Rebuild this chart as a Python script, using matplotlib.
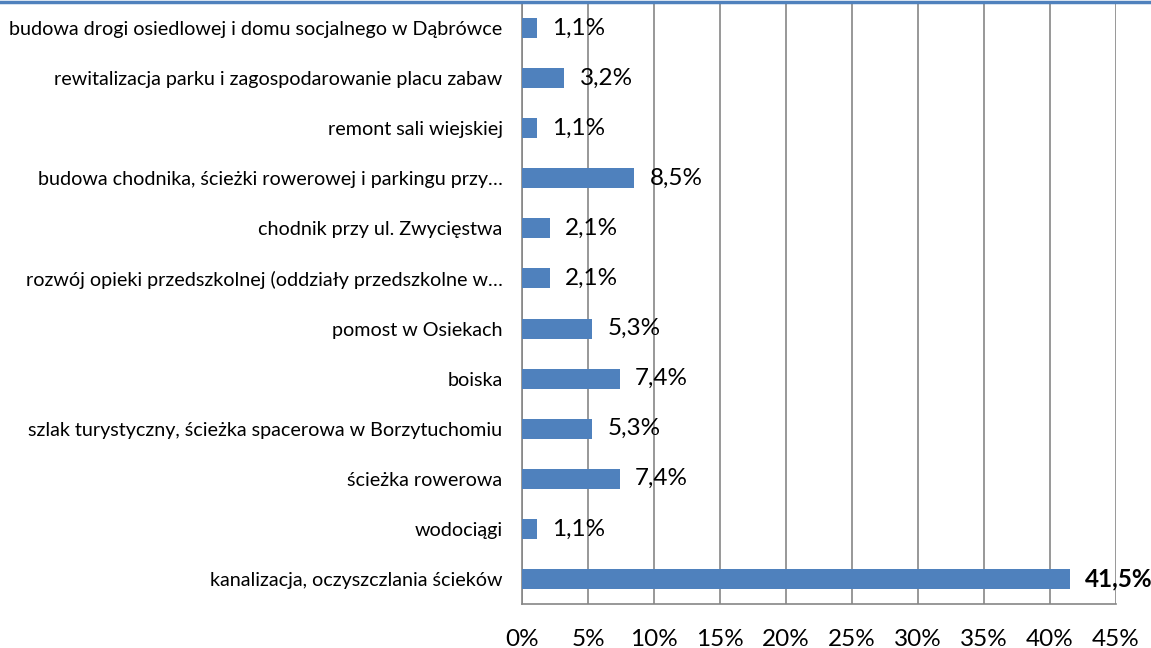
import matplotlib
matplotlib.use("Agg")
import matplotlib.pyplot as plt
from matplotlib.lines import Line2D
from matplotlib.ticker import FuncFormatter

plt.rcParams['font.family'] = ['Lato', 'DejaVu Sans']

categories = [
    "budowa drogi osiedlowej i domu socjalnego w Dąbrówce",
    "rewitalizacja parku i zagospodarowanie placu zabaw",
    "remont sali wiejskiej",
    "budowa chodnika, ścieżki rowerowej i parkingu przy…",
    "chodnik przy ul. Zwycięstwa",
    "rozwój opieki przedszkolnej (oddziały przedszkolne w…",
    "pomost w Osiekach",
    "boiska",
    "szlak turystyczny, ścieżka spacerowa w Borzytuchomiu",
    "ścieżka rowerowa",
    "wodociągi",
    "kanalizacja, oczyszczlania ścieków",
]
values = [1.1, 3.2, 1.1, 8.5, 2.1, 2.1, 5.3, 7.4, 5.3, 7.4, 1.1, 41.5]
bold_labels = [False] * 11 + [True]
x_ticks = [0, 5, 10, 15, 20, 25, 30, 35, 40, 45]

W, H = 1151, 648
fig = plt.figure(figsize=(W / 100, H / 100), dpi=100)
left, right, bottom, top = 522, 1116, 604, 3
ax = fig.add_axes([left / W, (H - bottom) / H, (right - left) / W, (bottom - top) / H])

ypos = list(range(len(categories)))
ax.barh(ypos, values, height=0.4, color='#4F81BD', zorder=3)
ax.set_ylim(len(categories) - 0.5, -0.5)
ax.set_xlim(0, 45)
ax.set_yticks(ypos)
ax.set_yticklabels(categories, fontsize=14.2, color='#000000')
ax.set_xticks(x_ticks)
ax.xaxis.set_major_formatter(FuncFormatter(lambda v, p: f"{int(v)}%"))
ax.tick_params(axis='x', length=0, pad=18, labelsize=17.5)
ax.tick_params(axis='y', length=0, pad=14)
ax.grid(axis='x', color='#868686', linewidth=1.2, zorder=0)
for s in ['top', 'right']:
    ax.spines[s].set_visible(False)
for s in ['left', 'bottom']:
    ax.spines[s].set_color('#868686')
    ax.spines[s].set_linewidth(1.2)

for y, v, b in zip(ypos, values, bold_labels):
    ax.annotate(f"{v:.1f}".replace('.', ',') + "%", xy=(v, y), xytext=(11, 0),
                textcoords='offset points', va='center', ha='left',
                fontsize=17.5, fontweight='bold' if b else 'normal', color='#000000', zorder=4)

fig.add_artist(Line2D([0, 1], [1 - 1.5 / H, 1 - 1.5 / H], transform=fig.transFigure,
                      color='#4F81BD', linewidth=2.5))

fig.savefig('out.png', dpi=100)
